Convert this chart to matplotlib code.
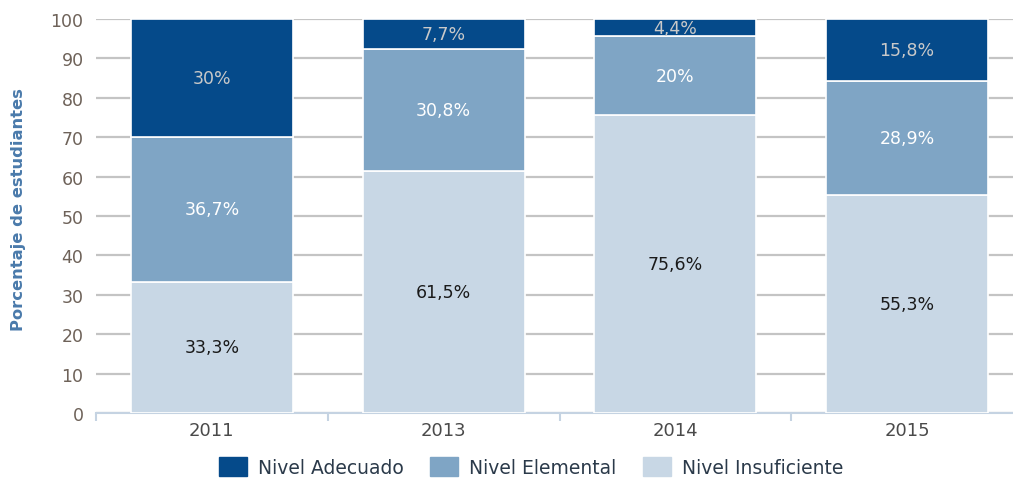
import matplotlib
matplotlib.use("Agg")
import matplotlib.pyplot as plt
from matplotlib.patches import Patch
import numpy as np

categories = ["2011", "2013", "2014", "2015"]
insuficiente = [33.3, 61.5, 75.6, 55.3]
elemental = [36.7, 30.8, 20.0, 28.9]
adecuado = [30.0, 7.7, 4.4, 15.8]
lbl_insuf = ["33,3%", "61,5%", "75,6%", "55,3%"]
lbl_elem = ["36,7%", "30,8%", "20%", "28,9%"]
lbl_adec = ["30%", "7,7%", "4,4%", "15,8%"]
series_names = ["Nivel Adecuado", "Nivel Elemental", "Nivel Insuficiente"]

c_dark = "#054a8a"
c_mid = "#7fa5c5"
c_light = "#c8d7e5"

fig = plt.figure(figsize=(10.13, 4.81), dpi=100)
ax = fig.add_axes([96/1013, 67/481, (1023-96)/1013, 394/481])

x = np.arange(len(categories))
w = 0.70
ins = np.array(insuficiente)
ele = np.array(elemental)
ade = np.array(adecuado)

ax.bar(x, ins, w, color=c_light, edgecolor="white", linewidth=1.2, zorder=3)
ax.bar(x, ele, w, bottom=ins, color=c_mid, edgecolor="white", linewidth=1.2, zorder=3)
ax.bar(x, ade, w, bottom=ins + ele, color=c_dark, edgecolor="white", linewidth=1.2, zorder=3)

fs = 12.5
for i in range(len(categories)):
    ax.text(x[i], ins[i] / 2, lbl_insuf[i], ha="center", va="center", fontsize=fs, color="#1a1a1a", zorder=4)
    ax.text(x[i], ins[i] + ele[i] / 2, lbl_elem[i], ha="center", va="center", fontsize=fs, color="white", zorder=4)
    ax.text(x[i], ins[i] + ele[i] + ade[i] / 2, lbl_adec[i], ha="center", va="center", fontsize=fs, color="#c9c9c9", zorder=4)

ax.set_xlim(-0.5, 3.5)
ax.set_ylim(0, 100)
ax.set_yticks(np.arange(0, 101, 10))
ax.yaxis.grid(True, color="#c4c4c4", linewidth=1.6, zorder=0)
ax.set_axisbelow(True)
for s in ["top", "right", "left"]:
    ax.spines[s].set_visible(False)
ax.spines["bottom"].set_color("#c5d3e2")
ax.spines["bottom"].set_linewidth(1.5)
ax.tick_params(axis="y", length=0, pad=9, labelsize=12.5, labelcolor="#6e6259")
ax.set_xticks(x)
ax.set_xticklabels(categories)
ax.tick_params(axis="x", length=0, pad=6, labelsize=13, labelcolor="#4a4a4a")
ax.set_xticks(np.arange(-0.5, 3.6, 1.0), minor=True)
ax.tick_params(axis="x", which="minor", length=6, width=1.5, color="#c5d3e2")

fig.text(19/1013, 1 - 210/481, "Porcentaje de estudiantes", rotation=90, ha="center", va="center",
         fontsize=11.8, fontweight="bold", color="#4a7aab",
         family=["Liberation Sans Narrow", "DejaVu Sans"])

handles = [Patch(facecolor=c_dark, edgecolor=c_dark),
           Patch(facecolor=c_mid, edgecolor=c_mid),
           Patch(facecolor=c_light, edgecolor=c_light)]
leg = fig.legend(handles, series_names, loc="center", bbox_to_anchor=(531/1013, 1 - 468/481),
                 ncol=3, frameon=False, fontsize=13.5, handlelength=1.5, handleheight=1.2,
                 handletextpad=0.6, columnspacing=1.4)
for t in leg.get_texts():
    t.set_color("#2b3a4a")

fig.savefig("out.png", dpi=100)
